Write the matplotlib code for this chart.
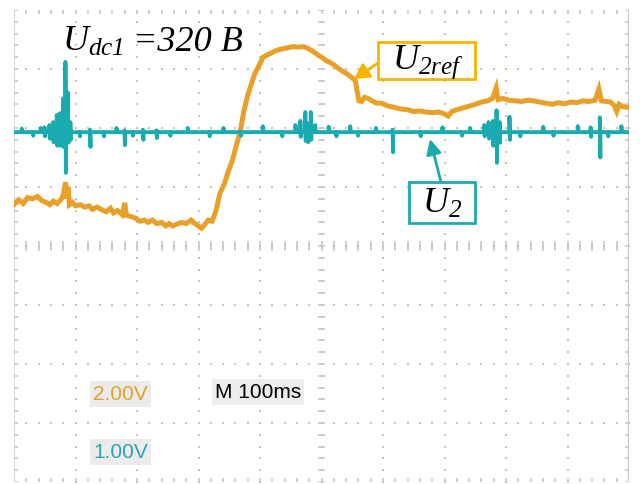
import matplotlib
matplotlib.use("Agg")
import matplotlib.pyplot as plt
import numpy as np
from matplotlib.patches import Rectangle

# scope screen: 10 x 8 divisions, 100 ms/div, values in divisions from centre
N_X, N_Y = 10, 8
T_DIV = 100

GRID = "#c4c4c4"
ORANGE = "#e8a028"
CYAN = "#19abaf"
BOX_ORANGE = "#f7b500"

# U2ref trace (time ms, level div)
uref_t = [0, 8, 15, 22, 30, 38, 45, 52, 58, 64, 70, 76, 80, 84, 86, 88, 90, 95,
          100, 108, 115, 122, 128, 135, 142, 150, 157, 162, 168, 176, 180, 183,
          190, 198, 205, 212, 218, 225, 232, 240, 247, 252, 258, 265, 272, 280,
          288, 294, 300, 305, 310, 316, 322, 328, 335, 342, 348, 355, 362, 368,
          374, 380, 386, 392, 398, 405, 412, 420, 428, 436, 445, 454, 462, 470,
          478, 486, 494, 500, 508, 516, 525, 533, 541, 549, 555, 558, 561, 565,
          570, 576, 582, 590, 598, 606, 614, 622, 630, 640, 650, 660, 670, 680,
          690, 700, 706, 712, 720, 730, 740, 750, 760, 770, 778, 784, 787, 795,
          805, 815, 825, 835, 845, 855, 865, 875, 885, 895, 905, 915, 925, 935,
          945, 951, 955, 962, 970, 976, 980, 984, 990, 1000]
uref_v = [0.70, 0.78, 0.72, 0.82, 0.80, 0.84, 0.77, 0.74, 0.70, 0.76, 0.72, 0.78,
          0.86, 1.08, 0.80, 1.00, 0.70, 0.74, 0.68, 0.70, 0.66, 0.68, 0.62, 0.66,
          0.62, 0.58, 0.64, 0.56, 0.60, 0.53, 0.73, 0.52, 0.50, 0.47, 0.42, 0.44,
          0.40, 0.44, 0.38, 0.40, 0.34, 0.38, 0.34, 0.37, 0.40, 0.38, 0.44, 0.38,
          0.34, 0.30, 0.36, 0.44, 0.42, 0.58, 0.90, 1.05, 1.25, 1.45, 1.72, 1.95,
          2.30, 2.55, 2.75, 2.93, 3.05, 3.20, 3.24, 3.28, 3.32, 3.34, 3.36, 3.38,
          3.37, 3.38, 3.35, 3.30, 3.24, 3.20, 3.14, 3.10, 3.03, 2.97, 2.92, 2.86,
          2.80, 2.62, 2.46, 2.45, 2.52, 2.50, 2.46, 2.42, 2.42, 2.38, 2.36, 2.34,
          2.32, 2.31, 2.28, 2.29, 2.27, 2.26, 2.27, 2.24, 2.20, 2.28, 2.31, 2.34,
          2.37, 2.40, 2.44, 2.46, 2.50, 2.68, 2.48, 2.50, 2.47, 2.46, 2.45, 2.47,
          2.46, 2.44, 2.42, 2.40, 2.43, 2.41, 2.44, 2.43, 2.46, 2.45, 2.47, 2.66,
          2.46, 2.45, 2.44, 2.38, 2.28, 2.40, 2.36, 2.35]

# U2 trace: flat level with switching spikes (time ms, top div, bottom div)
u2_level = 1.93
u2_spike_t = [13, 31, 44, 50, 58, 64, 70, 75, 80, 84, 88, 92, 107, 124, 146,
              167, 180, 193, 210, 232, 254, 283, 318, 341, 369, 405, 436, 458,
              466, 474, 478, 483, 490, 512, 524, 547, 559, 589, 616, 661, 697,
              728, 742, 765, 772, 779, 785, 790, 806, 823, 861, 877, 917, 938,
              953, 966, 988]
u2_spike_hi = [1.99, 1.93, 2.00, 2.01, 2.05, 2.10, 2.22, 2.25, 2.50, 3.12, 2.60,
               2.10, 1.93, 1.97, 1.93, 2.00, 1.96, 1.93, 1.97, 1.96, 1.93, 2.00,
               1.93, 2.00, 1.93, 2.03, 1.93, 2.05, 2.12, 2.27, 2.08, 2.27, 2.05,
               2.02, 1.93, 2.03, 1.93, 2.00, 1.97, 1.93, 2.01, 1.93, 2.00, 2.05,
               2.10, 2.12, 2.30, 2.10, 2.19, 1.93, 2.02, 1.93, 2.03, 2.01, 2.18,
               1.93, 2.03]
u2_spike_lo = [1.93, 1.87, 1.93, 1.86, 1.82, 1.76, 1.70, 1.70, 1.68, 1.24, 1.75,
               1.80, 1.86, 1.68, 1.86, 1.93, 1.71, 1.87, 1.80, 1.83, 1.87, 1.93,
               1.86, 1.93, 1.87, 1.93, 1.86, 1.93, 1.85, 1.78, 1.76, 1.80, 1.93,
               1.93, 1.86, 1.93, 1.87, 1.93, 1.59, 1.86, 1.93, 1.87, 1.93, 1.86,
               1.82, 1.70, 1.41, 1.75, 1.80, 1.86, 1.93, 1.87, 1.93, 1.85, 1.50,
               1.86, 1.93]

ch_labels = ["2.00V", "1.00V"]
ch_colors = [ORANGE, "#2aa7ae"]
timebase = "M 100ms"


def scr(x, y):
    # screen pixel position -> axes data (ms, div)
    return (x - 14) / 0.615, (246 - y) / 59.0


plt.rcParams["mathtext.fontset"] = "custom"
plt.rcParams["mathtext.it"] = "Liberation Serif:italic"
plt.rcParams["mathtext.rm"] = "Liberation Serif:italic"

fig = plt.figure(figsize=(6.4, 4.84), dpi=100, facecolor="white")
ax = fig.add_axes([14 / 640, 2 / 484, 615 / 640, 472 / 484])
ax.set_xlim(0, N_X * T_DIV)
ax.set_ylim(-N_Y / 2, N_Y / 2)
ax.axis("off")

# graticule
minor_t = np.arange(0, N_X * T_DIV + 1, T_DIV / 5)
minor_v = np.arange(-N_Y / 2, N_Y / 2 + 0.01, 0.2)
for k in range(1, N_X):
    ax.plot(np.full_like(minor_v, k * T_DIV), minor_v, ls="none", marker="s",
            ms=1.6, mew=0, color=GRID, zorder=1)
for k in range(-N_Y // 2 + 1, N_Y // 2):
    ax.plot(minor_t, np.full_like(minor_t, k), ls="none", marker="s",
            ms=1.6, mew=0, color=GRID, zorder=1)
ax.vlines(minor_t, -0.09, 0.09, color=GRID, lw=1.1, zorder=1)
ax.hlines(minor_v, 495, 505, color=GRID, lw=1.1, zorder=1)
ax.vlines(minor_t, 3.93, 4.0, color=GRID, lw=1.1, zorder=1)
ax.vlines(minor_t, -4.0, -3.93, color=GRID, lw=1.1, zorder=1)
ax.hlines(minor_v, 0, 7, color=GRID, lw=1.1, zorder=1)
ax.hlines(minor_v, 993, 1000, color=GRID, lw=1.1, zorder=1)
ax.axvline(0, color="#d0d0d0", lw=1.2, zorder=1)
ax.axvline(1000, color="#c8c8c8", lw=1.6, zorder=1)

# traces
ax.plot(uref_t, uref_v, color=ORANGE, lw=3.6, solid_joinstyle="miter", zorder=3)

u2_t, u2_v = [0], [u2_level]
for t, hi, lo in zip(u2_spike_t, u2_spike_hi, u2_spike_lo):
    u2_t += [t - 0.4, t - 0.4, t + 0.4, t + 0.4]
    u2_v += [u2_level, hi, lo, u2_level]
u2_t.append(1000)
u2_v.append(u2_level)
ax.plot(u2_t, u2_v, color=CYAN, lw=2.8, zorder=4)

# supply voltage label
ax.text(*scr(62, 51), r"$U_{dc1}$", fontsize=26, ha="left", va="baseline", zorder=6)
ax.text(*scr(133, 51), "=320 B", fontsize=26, family="Liberation Serif",
        style="italic", ha="left", va="baseline", zorder=6)

# callout boxes
x0, y0 = scr(378, 79)
x1, y1 = scr(475, 42)
ax.add_patch(Rectangle((x0, y0), x1 - x0, y1 - y0, fc="white", ec=BOX_ORANGE,
                       lw=2, zorder=5))
ax.text(*scr(428, 62), r"$U_{2ref}$", fontsize=26, ha="center", va="center", zorder=6)
ax.annotate("", xy=scr(354, 79), xytext=scr(378, 63),
            arrowprops=dict(arrowstyle="-|>,head_length=0.9,head_width=0.5",
                            color=BOX_ORANGE, lw=2, shrinkA=0, shrinkB=0), zorder=6)

x0, y0 = scr(409, 223)
x1, y1 = scr(475, 182)
ax.add_patch(Rectangle((x0, y0), x1 - x0, y1 - y0, fc="white", ec=CYAN,
                       lw=2, zorder=5))
ax.text(*scr(442, 203), r"$U_{2}$", fontsize=26, ha="center", va="center", zorder=6)
ax.annotate("", xy=scr(430, 139), xytext=scr(441, 182),
            arrowprops=dict(arrowstyle="-|>,head_length=0.9,head_width=0.45",
                            color=CYAN, lw=2, shrinkA=0, shrinkB=0), zorder=6)

# channel scale readouts
osc_font = dict(family="Liberation Sans", fontsize=15)
for (px, py), label, col in zip([(93, 394), (93, 452)], ch_labels, ch_colors):
    ax.text(*scr(px, py), label, color=col, ha="left", va="center",
            bbox=dict(boxstyle="square,pad=0.15", fc="#ebebeb", ec="none"),
            zorder=6, **osc_font)
ax.text(*scr(215, 392), timebase, color="black", ha="left", va="center",
        bbox=dict(boxstyle="square,pad=0.15", fc="#ededed", ec="none"),
        zorder=6, **osc_font)

fig.savefig("out.png", dpi=100, facecolor="white")
